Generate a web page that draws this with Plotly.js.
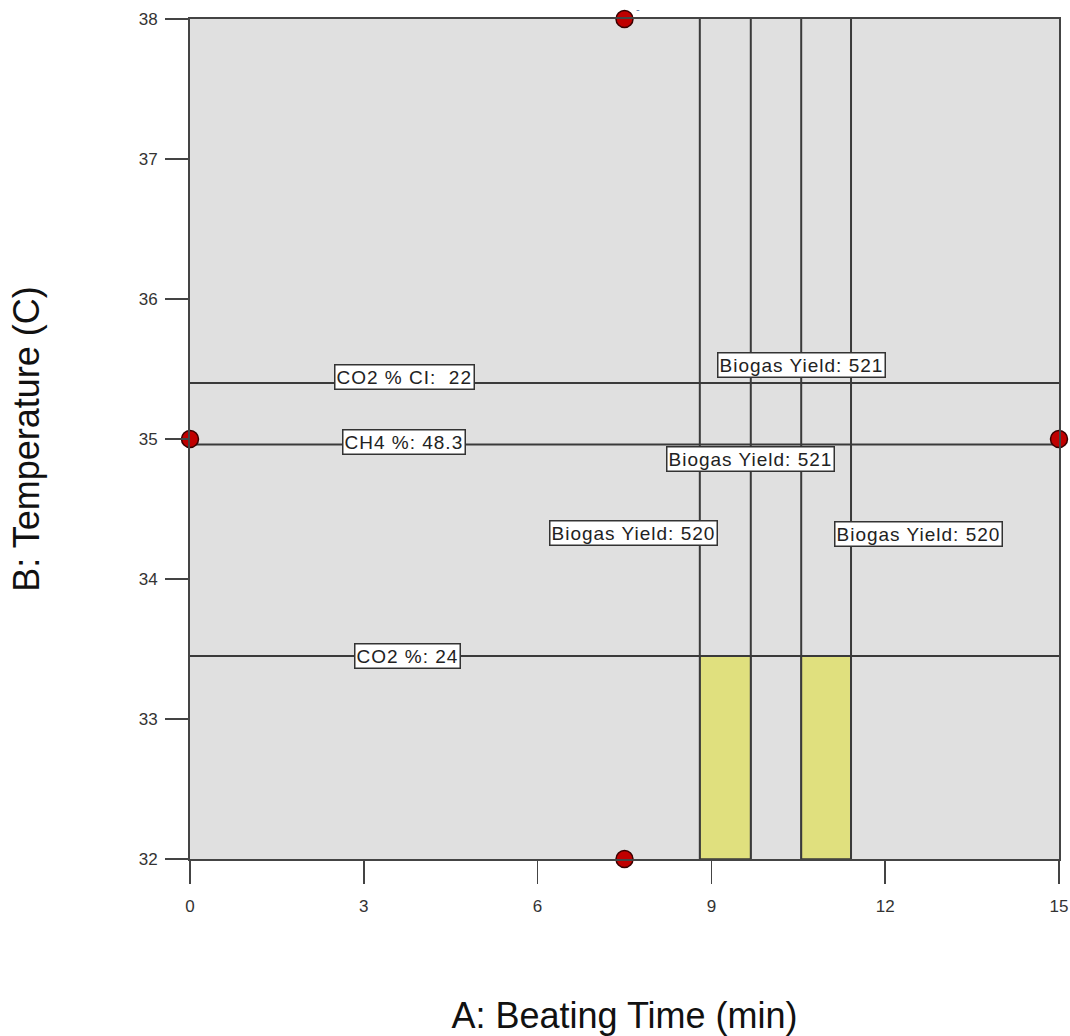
<!DOCTYPE html>
<html>
<head>
<meta charset="utf-8">
<script src="https://cdn.plot.ly/plotly-3.0.1.min.js"></script>
<style>
  html, body { margin: 0; padding: 0; background: #fff; }
  #chart { width: 1070px; height: 1036px; }
  text.annotation-text { letter-spacing: 1px; }
</style>
</head>
<body>
<div id="chart"></div>
<script>
// ---- data ----
const xTicks = [0, 3, 6, 9, 12, 15];
const yTicks = [32, 33, 34, 35, 36, 37, 38];

// design points (A: Beating Time, B: Temperature)
const designA = [7.5, 0, 15, 7.5];
const designB = [38, 35, 35, 32];

// horizontal constraint contours
const constraintNames = ['CO2 % CI:  22', 'CH4 %: 48.3', 'CO2 %: 24'];
const constraintB = [35.4, 34.96, 33.45];
const constraintLabelA = [3.71, 3.69, 3.76];
const constraintLabelB = [35.44, 34.98, 33.45];

// vertical biogas yield contours
const yieldA = [8.80, 9.68, 10.55, 11.41];
const yieldNames = ['Biogas Yield: 521', 'Biogas Yield: 521', 'Biogas Yield: 520', 'Biogas Yield: 520'];
const yieldLabelA = [10.55, 9.67, 7.66, 12.58];
const yieldLabelB = [35.53, 34.86, 34.33, 34.32];

// feasible (yellow) windows: between pairs of yield contours, below CO2 % 24 line
const windowPairs = [[0, 1], [2, 3]];
const windowTopIndex = 2;

const xRange = [0, 15];
const yRange = [32, 38];

// ---- build traces ----
const lineColor = '#3a3a3a';
const traces = [];

windowPairs.forEach(p => {
  const x0 = yieldA[p[0]], x1 = yieldA[p[1]];
  const yTop = constraintB[windowTopIndex];
  traces.push({
    type: 'scatter', mode: 'lines',
    x: [x0, x1, x1, x0, x0],
    y: [yRange[0], yRange[0], yTop, yTop, yRange[0]],
    fill: 'toself', fillcolor: '#e0e07e',
    line: { color: lineColor, width: 1.5 },
    hoverinfo: 'skip', showlegend: false
  });
});

constraintB.forEach(b => {
  traces.push({
    type: 'scatter', mode: 'lines',
    x: xRange, y: [b, b],
    line: { color: lineColor, width: 2 },
    hoverinfo: 'skip', showlegend: false
  });
});

yieldA.forEach(a => {
  traces.push({
    type: 'scatter', mode: 'lines',
    x: [a, a], y: yRange,
    line: { color: lineColor, width: 2 },
    hoverinfo: 'skip', showlegend: false
  });
});

traces.push({
  type: 'scatter', mode: 'markers',
  x: designA, y: designB,
  marker: { color: '#c00000', size: 17, line: { color: '#3a0000', width: 1.5 } },
  cliponaxis: false,
  showlegend: false
});

// ---- annotations ----
const labelFont = { family: 'Liberation Sans, Arial, sans-serif', size: 19, color: '#222' };
const annotations = [];
constraintNames.forEach((t, i) => {
  annotations.push({
    x: constraintLabelA[i], y: constraintLabelB[i], xref: 'x', yref: 'y',
    text: t, showarrow: false, font: labelFont,
    bgcolor: '#ffffff', bordercolor: '#333', borderwidth: 1.5, borderpad: 1
  });
});
yieldNames.forEach((t, i) => {
  annotations.push({
    x: yieldLabelA[i], y: yieldLabelB[i], xref: 'x', yref: 'y',
    text: t, showarrow: false, font: labelFont,
    bgcolor: '#ffffff', bordercolor: '#333', borderwidth: 1.5, borderpad: 1
  });
});
annotations.push({
  x: designA[0], y: designB[0], xref: 'x', yref: 'y',
  text: '-', showarrow: false, xshift: 14, yshift: 10,
  font: { family: 'Liberation Sans, Arial, sans-serif', size: 11, color: '#5a7aa8' }
});

const tickFont = { family: 'Liberation Sans, Arial, sans-serif', size: 17, color: '#333' };
const titleFont = { family: 'Liberation Sans, Arial, sans-serif', size: 36, color: '#111' };

const layout = {
  width: 1070, height: 1036,
  margin: { l: 190, r: 11, t: 19, b: 177, pad: 0 },
  paper_bgcolor: '#ffffff',
  plot_bgcolor: '#e0e0e0',
  showlegend: false,
  xaxis: {
    range: xRange, tickvals: xTicks, ticktext: xTicks.map(String),
    ticks: 'outside', ticklen: 23, tickwidth: 1.5, tickcolor: '#444',
    ticklabelstandoff: 8,
    showgrid: false, zeroline: false,
    showline: true, linecolor: '#444', linewidth: 2, mirror: true,
    tickfont: tickFont,
    title: { text: 'A: Beating Time (min)', font: titleFont, standoff: 90 },
    automargin: false
  },
  yaxis: {
    range: yRange, tickvals: yTicks, ticktext: yTicks.map(String),
    ticks: 'outside', ticklen: 23, tickwidth: 1.5, tickcolor: '#444',
    ticklabelstandoff: 4,
    showgrid: false, zeroline: false,
    showline: true, linecolor: '#444', linewidth: 2, mirror: true,
    tickfont: tickFont,
    title: { text: 'B: Temperature (C)', font: titleFont, standoff: 88 },
    automargin: false
  },
  annotations: annotations
};

Plotly.newPlot('chart', traces, layout, { displayModeBar: false, staticPlot: true });
</script>
</body>
</html>
